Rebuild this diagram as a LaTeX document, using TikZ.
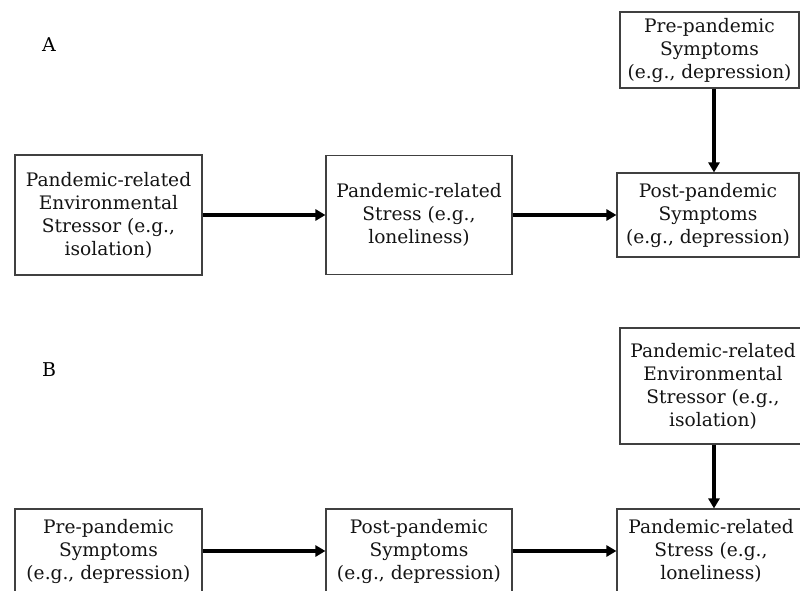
\documentclass[tikz,border=0pt]{standalone}
\usepackage{fontspec}
\setmainfont{DejaVu Serif}
\usetikzlibrary{arrows.meta}
\begin{document}
\begin{tikzpicture}[x=1pt,y=-1pt,
  box/.style={draw=black!75,line width=1.1pt,align=center,inner sep=0pt,
    font=\fontsize{18.6}{23}\selectfont,text=black!92},
  arr/.style={line width=3.4pt,-{Triangle[length=10pt,width=11pt]}},
  lbl/.style={font=\fontsize{19}{22}\selectfont,text=black}]
\clip (0,0) rectangle (800,590);
\fill[white] (0,0) rectangle (800,590);
% Panel A
\node[lbl] (la) at (49,45) {A};
\node[box,minimum width=187pt,minimum height=120pt] (a1) at (108.5,215) {Pandemic-related\\Environmental\\Stressor (e.g.,\\isolation)};
\node[box,minimum width=186pt,minimum height=119pt] (a2) at (419,215) {Pandemic-related\\Stress (e.g.,\\loneliness)};
\node[box,minimum width=182pt,minimum height=84pt] (a3) at (708,215) {Post-pandemic\\Symptoms\\(e.g., depression)};
\node[box,minimum width=179pt,minimum height=76pt] (a0) at (709.5,50) {Pre-pandemic\\Symptoms\\(e.g., depression)};
\draw[arr] (a1) -- (a2);
\draw[arr] (a2) -- (a3);
\draw[arr] ([xshift=4.5pt]a0.south) -- ([xshift=4.5pt]a0.south |- a3.north);
% Panel B
\node[lbl] (lb) at (49,370) {B};
\node[box,minimum width=186pt,minimum height=116pt] (b0) at (713,386) {Pandemic-related\\Environmental\\Stressor (e.g.,\\isolation)};
\node[box,minimum width=187pt,minimum height=84pt] (b1) at (108.5,551) {Pre-pandemic\\Symptoms\\(e.g., depression)};
\node[box,minimum width=186pt,minimum height=84pt] (b2) at (419,551) {Post-pandemic\\Symptoms\\(e.g., depression)};
\node[box,minimum width=188pt,minimum height=84pt] (b3) at (711,551) {Pandemic-related\\Stress (e.g.,\\loneliness)};
\draw[arr] (b1) -- (b2);
\draw[arr] (b2) -- (b3);
\draw[arr] ([xshift=1pt]b0.south) -- ([xshift=1pt]b0.south |- b3.north);
\end{tikzpicture}
\end{document}
